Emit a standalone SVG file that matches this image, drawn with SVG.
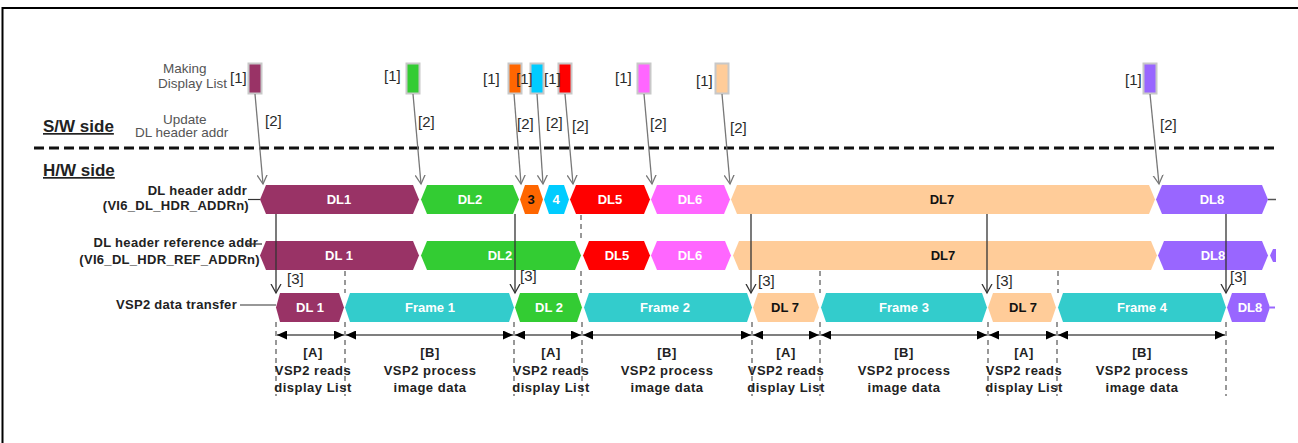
<svg xmlns="http://www.w3.org/2000/svg" width="1298" height="443" viewBox="0 0 1298 443">
<style>
text{font-family:"Liberation Sans",Arial,sans-serif}
.note{font-size:13.5px;fill:#555}
.tag{font-size:15px;fill:#2a2a2a}
.side{font-size:17px;font-weight:bold;fill:#222;text-decoration:underline}
.lbl{font-size:13px;font-weight:bold;fill:#222;letter-spacing:0.3px}
.in{font-size:13px;font-weight:bold;fill:#fff;text-anchor:middle}
.ink{font-size:13px;font-weight:bold;fill:#111;text-anchor:middle}
.cap{font-size:13px;font-weight:bold;fill:#222;text-anchor:middle;letter-spacing:0.5px}
.box{stroke:#c8c8c8;stroke-width:2}
.sw{stroke:#777;stroke-width:1.3;fill:none;marker-end:url(#vopen)}
.hw{stroke:#333;stroke-width:1.3;fill:none;marker-end:url(#vopen2)}
.dash{stroke:#777;stroke-width:1.5;stroke-dasharray:5 4;fill:none}
.dim{stroke:#555;stroke-width:1.5;marker-start:url(#tri-s);marker-end:url(#tri-e)}
</style>
<defs>
<marker id="vopen" markerUnits="userSpaceOnUse" markerWidth="12" markerHeight="12" refX="9" refY="5" orient="auto" viewBox="0 0 12 10">
<path d="M0,0 L9,5 L0,10" fill="none" stroke="#777" stroke-width="1.3"/>
</marker>
<marker id="vopen2" markerUnits="userSpaceOnUse" markerWidth="12" markerHeight="12" refX="9" refY="5" orient="auto" viewBox="0 0 12 10">
<path d="M0,0 L9,5 L0,10" fill="none" stroke="#333" stroke-width="1.3"/>
</marker>
<marker id="tri-e" markerUnits="userSpaceOnUse" markerWidth="10" markerHeight="9" refX="10" refY="4.5" orient="auto" viewBox="0 0 10 9">
<path d="M0,0 L10,4.5 L0,9 Z" fill="#000"/>
</marker>
<marker id="tri-s" markerUnits="userSpaceOnUse" markerWidth="10" markerHeight="9" refX="0" refY="4.5" orient="auto" viewBox="0 0 10 9">
<path d="M10,0 L0,4.5 L10,9 Z" fill="#000"/>
</marker>
</defs>
<rect width="1298" height="443" fill="#fff"/>
<!-- frame -->
<path d="M2.5,443 L2.5,8 L1298,8" fill="none" stroke="#000" stroke-width="2"/>
<!-- separator -->
<line x1="34" y1="148" x2="1276" y2="148" stroke="#111" stroke-width="3" stroke-dasharray="10 5"/>

<g id="side-labels">
<text class="note" x="163" y="73">Making</text>
<text class="note" x="158" y="88">Display List</text>
<text class="note" x="163" y="124">Update</text>
<text class="note" x="135" y="137">DL header addr</text>
<text class="side" x="43" y="132">S/W side</text>
<text class="side" x="43" y="176">H/W side</text>
<text class="lbl" x="247" y="195" text-anchor="end">DL header addr</text>
<text class="lbl" x="249" y="210" text-anchor="end">(VI6_DL_HDR_ADDRn)</text>
<text class="lbl" x="258" y="247" text-anchor="end">DL header reference addr</text>
<text class="lbl" x="260" y="264" text-anchor="end">(VI6_DL_HDR_REF_ADDRn)</text>
<text class="lbl" x="237" y="309" text-anchor="end">VSP2 data transfer</text>
</g>

<!-- S/W making boxes -->
<g id="sw-dl1"><rect class="box" x="248.5" y="63.5" width="13" height="30" fill="#993366"/><text class="tag" x="230" y="83">[1]</text></g>
<g id="sw-dl2"><rect class="box" x="406.5" y="63.5" width="13" height="30" fill="#33CC33"/><text class="tag" x="384" y="81">[1]</text></g>
<g id="sw-dl3"><rect class="box" x="508.5" y="63.5" width="13" height="30" fill="#FF6600"/><text class="tag" x="483" y="84">[1]</text></g>
<g id="sw-dl4"><rect class="box" x="530.5" y="63.5" width="13" height="30" fill="#00CCFF"/><text class="tag" x="516" y="84">[1]</text></g>
<g id="sw-dl5"><rect class="box" x="558.5" y="63.5" width="13" height="30" fill="#FF0000"/><text class="tag" x="544" y="84">[1]</text></g>
<g id="sw-dl6"><rect class="box" x="637.5" y="63.5" width="13" height="30" fill="#FF66FF"/><text class="tag" x="615" y="83">[1]</text></g>
<g id="sw-dl7"><rect class="box" x="715.5" y="63.5" width="13" height="30" fill="#FFCC99"/><text class="tag" x="696" y="86">[1]</text></g>
<g id="sw-dl8"><rect class="box" x="1143.5" y="63.5" width="13" height="30" fill="#9966FF"/><text class="tag" x="1125" y="85">[1]</text></g>

<!-- row 1: DL header addr -->
<g id="hdr-row">
<polygon points="260,199.5 266,185 413,185 419,199.5 413,214 266,214" fill="#993366"/><text class="in" x="339" y="204">DL1</text>
<polygon points="421,199.5 427,185 513,185 519,199.5 513,214 427,214" fill="#33CC33"/><text class="in" x="470" y="204">DL2</text>
<polygon points="520,199.5 525,185 538,185 543,199.5 538,214 525,214" fill="#FF6600"/><text class="ink" x="531" y="204">3</text>
<polygon points="544,199.5 549,185 564,185 569,199.5 564,214 549,214" fill="#00CCFF"/><text class="in" x="556" y="204">4</text>
<polygon points="570,199.5 576,185 644,185 650,199.5 644,214 576,214" fill="#FF0000"/><text class="in" x="610" y="204">DL5</text>
<polygon points="651,199.5 657,185 724,185 730,199.5 724,214 657,214" fill="#FF66FF"/><text class="in" x="690" y="204">DL6</text>
<polygon points="731,199.5 737,185 1149,185 1155,199.5 1149,214 737,214" fill="#FFCC99"/><text class="ink" x="942" y="204">DL7</text>
<polygon points="1156,199.5 1162,185 1262,185 1268,199.5 1262,214 1162,214" fill="#9966FF"/><text class="in" x="1212" y="204">DL8</text>
</g>

<!-- row 2: DL header reference addr -->
<g id="ref-row">
<polygon points="260,255.5 266,241 413,241 419,255.5 413,270 266,270" fill="#993366"/><text class="in" x="339" y="260">DL 1</text>
<polygon points="421,255.5 427,241 575,241 581,255.5 575,270 427,270" fill="#33CC33"/><text class="in" x="500" y="260">DL2</text>
<polygon points="583,255.5 589,241 644,241 650,255.5 644,270 589,270" fill="#FF0000"/><text class="in" x="617" y="260">DL5</text>
<polygon points="651,255.5 657,241 725,241 731,255.5 725,270 657,270" fill="#FF66FF"/><text class="in" x="690" y="260">DL6</text>
<polygon points="733,255.5 739,241 1151,241 1157,255.5 1151,270 739,270" fill="#FFCC99"/><text class="ink" x="943" y="260">DL7</text>
<polygon points="1158,255.5 1164,241 1262,241 1268,255.5 1262,270 1164,270" fill="#9966FF"/><text class="in" x="1213" y="260">DL8</text>
<polygon points="1270,255.5 1273,249 1276,249 1276,262 1273,262" fill="#9966FF"/>
</g>

<!-- dashed guides -->
<g id="guides">
<line class="dash" x1="581" y1="215" x2="581" y2="241"/>
<line class="dash" x1="581" y1="271" x2="581" y2="293"/>
<line class="dash" x1="345" y1="271" x2="345" y2="293"/>
<line class="dash" x1="820" y1="271" x2="820" y2="293"/>
<line class="dash" x1="1058" y1="271" x2="1058" y2="293"/>
<line class="dash" x1="276" y1="322" x2="276" y2="396"/>
<line class="dash" x1="345" y1="322" x2="345" y2="396"/>
<line class="dash" x1="514" y1="322" x2="514" y2="396"/>
<line class="dash" x1="582" y1="322" x2="582" y2="396"/>
<line class="dash" x1="752" y1="322" x2="752" y2="396"/>
<line class="dash" x1="820" y1="322" x2="820" y2="396"/>
<line class="dash" x1="988" y1="322" x2="988" y2="396"/>
<line class="dash" x1="1057" y1="322" x2="1057" y2="396"/>
<line class="dash" x1="1226" y1="322" x2="1226" y2="396"/>
</g>

<!-- row 3: VSP2 data transfer -->
<g id="xfer-row">
<polygon points="276,307.5 280,293 339,293 344,307.5 339,322 280,322" fill="#993366"/><text class="in" x="310" y="312">DL 1</text>
<polygon points="345,307.5 350,293 509,293 514,307.5 509,322 350,322" fill="#33CCCC"/><text class="in" x="430" y="312">Frame 1</text>
<polygon points="515,307.5 520,293 577,293 582,307.5 577,322 520,322" fill="#33CC33"/><text class="in" x="549" y="312">DL 2</text>
<polygon points="584,307.5 589,293 747,293 752,307.5 747,322 589,322" fill="#33CCCC"/><text class="in" x="665" y="312">Frame 2</text>
<polygon points="753,307.5 758,293 814,293 819,307.5 814,322 758,322" fill="#FFCC99"/><text class="ink" x="785" y="312">DL 7</text>
<polygon points="821,307.5 826,293 982,293 987,307.5 982,322 826,322" fill="#33CCCC"/><text class="in" x="904" y="312">Frame 3</text>
<polygon points="988,307.5 993,293 1051,293 1056,307.5 1051,322 993,322" fill="#FFCC99"/><text class="ink" x="1023" y="312">DL 7</text>
<polygon points="1058,307.5 1063,293 1221,293 1226,307.5 1221,322 1063,322" fill="#33CCCC"/><text class="in" x="1142" y="312">Frame 4</text>
<polygon points="1227,307.5 1232,293 1265,293 1270,307.5 1265,322 1232,322" fill="#9966FF"/><text class="in" x="1250" y="312">DL8</text>
</g>

<!-- connectors -->
<g id="connectors">
<line x1="248" y1="199.5" x2="260" y2="199.5" stroke="#333" stroke-width="1.2"/>
<line x1="245" y1="244" x2="262" y2="244" stroke="#333" stroke-width="1.2"/>
<line x1="240" y1="305" x2="276" y2="305" stroke="#333" stroke-width="1.2"/>
<line x1="1268" y1="199.5" x2="1276" y2="199.5" stroke="#555" stroke-width="1.5"/>
<line x1="1270" y1="307.5" x2="1275" y2="307.5" stroke="#9966FF" stroke-width="2"/>

<line class="sw" x1="255" y1="94" x2="263" y2="184"/>
<line class="sw" x1="413" y1="94" x2="421" y2="184"/>
<line class="sw" x1="514" y1="94" x2="521" y2="184"/>
<line class="sw" x1="537" y1="94" x2="543" y2="184"/>
<line class="sw" x1="565" y1="94" x2="573" y2="184"/>
<line class="sw" x1="644" y1="94" x2="652" y2="184"/>
<line class="sw" x1="722" y1="94" x2="730" y2="184"/>
<line class="sw" x1="1150" y1="94" x2="1159" y2="184"/>
<text class="tag" x="265" y="126">[2]</text>
<text class="tag" x="418" y="127">[2]</text>
<text class="tag" x="517" y="129">[2]</text>
<text class="tag" x="546" y="128">[2]</text>
<text class="tag" x="572" y="131">[2]</text>
<text class="tag" x="650" y="129">[2]</text>
<text class="tag" x="730" y="133">[2]</text>
<text class="tag" x="1160" y="130">[2]</text>

<line class="hw" x1="276" y1="214" x2="276" y2="293"/>
<line class="hw" x1="515" y1="214" x2="515" y2="293"/>
<line class="hw" x1="751" y1="214" x2="751" y2="293"/>
<line class="hw" x1="987" y1="214" x2="987" y2="293"/>
<line class="hw" x1="1226" y1="214" x2="1226" y2="293"/>
<text class="tag" x="287" y="284">[3]</text>
<text class="tag" x="520" y="281">[3]</text>
<text class="tag" x="758" y="286">[3]</text>
<text class="tag" x="996" y="286">[3]</text>
<text class="tag" x="1230" y="282">[3]</text>
</g>

<!-- dimension lines and captions -->
<g id="dims">
<line class="dim" x1="277" y1="335" x2="344" y2="335"/>
<line class="dim" x1="346" y1="335" x2="513" y2="335"/>
<line class="dim" x1="515" y1="335" x2="581" y2="335"/>
<line class="dim" x1="583" y1="335" x2="751" y2="335"/>
<line class="dim" x1="753" y1="335" x2="819" y2="335"/>
<line class="dim" x1="821" y1="335" x2="987" y2="335"/>
<line class="dim" x1="989" y1="335" x2="1056" y2="335"/>
<line class="dim" x1="1058" y1="335" x2="1225" y2="335"/>
</g>
<g id="cap-a1"><text class="cap" x="313" y="357">[A]</text><text class="cap" x="313" y="375">VSP2 reads</text><text class="cap" x="313" y="392">display List</text></g>
<g id="cap-b1"><text class="cap" x="430" y="357">[B]</text><text class="cap" x="430" y="375">VSP2 process</text><text class="cap" x="430" y="392">image data</text></g>
<g id="cap-a2"><text class="cap" x="551" y="357">[A]</text><text class="cap" x="551" y="375">VSP2 reads</text><text class="cap" x="551" y="392">display List</text></g>
<g id="cap-b2"><text class="cap" x="667" y="357">[B]</text><text class="cap" x="667" y="375">VSP2 process</text><text class="cap" x="667" y="392">image data</text></g>
<g id="cap-a3"><text class="cap" x="786" y="357">[A]</text><text class="cap" x="786" y="375">VSP2 reads</text><text class="cap" x="786" y="392">display List</text></g>
<g id="cap-b3"><text class="cap" x="904" y="357">[B]</text><text class="cap" x="904" y="375">VSP2 process</text><text class="cap" x="904" y="392">image data</text></g>
<g id="cap-a4"><text class="cap" x="1024" y="357">[A]</text><text class="cap" x="1024" y="375">VSP2 reads</text><text class="cap" x="1024" y="392">display List</text></g>
<g id="cap-b4"><text class="cap" x="1142" y="357">[B]</text><text class="cap" x="1142" y="375">VSP2 process</text><text class="cap" x="1142" y="392">image data</text></g>
</svg>
